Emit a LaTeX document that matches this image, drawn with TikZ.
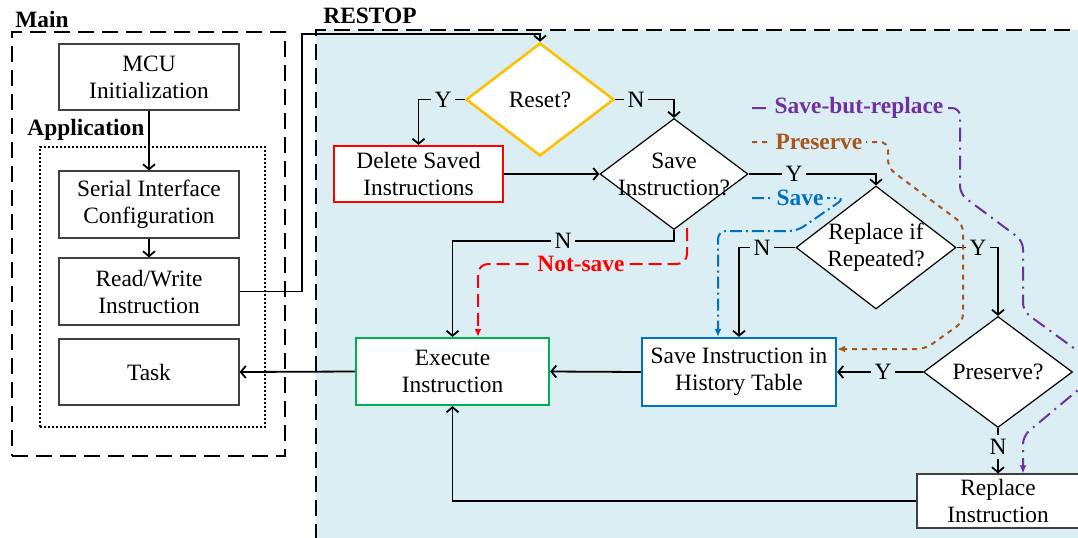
\documentclass[tikz,border=0pt]{standalone}
\usepackage{fontspec}
\setmainfont{Liberation Serif}
\usetikzlibrary{shapes.geometric,arrows.meta}
\definecolor{bg}{HTML}{DAEEF3}
\definecolor{cgold}{HTML}{FFC000}
\definecolor{cred}{HTML}{FF0000}
\definecolor{cgreen}{HTML}{00B050}
\definecolor{cblue}{HTML}{0070C0}
\definecolor{cbrown}{HTML}{A8561C}
\definecolor{cpurple}{HTML}{7030A0}
\begin{document}
\begin{tikzpicture}[x=0.5pt,y=-0.5pt,
  every node/.style={font=\fontsize{11.7pt}{13.5pt}\selectfont},
  box/.style={draw=black!75, line width=0.6pt, fill=white, minimum width=90pt, minimum height=33pt, align=center, inner sep=0pt},
  dia/.style={draw=black, line width=0.6pt, fill=white, shape=diamond, inner sep=0pt},
  txt/.style={align=center, inner sep=0pt},
  conn/.style={line width=0.9pt, -{Straight Barb[length=2.5pt,width=6pt]}},
  lab/.style={fill=bg, inner sep=2pt},
  clab/.style={fill=bg, inner sep=2pt, font=\fontsize{11.7pt}{13.5pt}\selectfont\bfseries},
  ctip/.style={-{Latex[length=4pt,width=3.5pt]}},
  ttl/.style={font=\fontsize{11.7pt}{13.5pt}\selectfont\bfseries, inner sep=0pt, anchor=base west},
  cont/.style={draw, line width=1pt, dash pattern=on 8pt off 4pt, inner sep=0pt},
]
\clip (0,0) rectangle (1078,537);
\fill[white] (0,0) rectangle (1078,537);

% containers
\node[cont, fill=bg, minimum width=392pt, minimum height=265pt] (resB) at (708,295) {};
\node[cont, minimum width=136.5pt, minimum height=212pt] (mainB) at (148.5,244) {};
\node[draw, line width=0.9pt, dash pattern=on 1pt off 1pt, inner sep=0pt, minimum width=112.5pt, minimum height=140pt] (appB) at (152.5,287) {};

\node[ttl] (mainT) at (15,27) {Main};
\node[ttl] (appT) at (27,135) {Application};
\node[ttl] (resT) at (323,23) {RESTOP};

% boxes
\node[box] (mcu) at (149,77) {MCU\\Initialization};
\node[box, minimum height=33.5pt] (ser) at (149,204.5) {Serial Interface\\Configuration};
\node[box, minimum height=33.5pt] (rw) at (149,291.5) {Read/Write\\Instruction};
\node[box] (task) at (149,372) {Task};
\node[box, draw=cred, line width=1.1pt, minimum width=84.5pt, minimum height=28pt] (del) at (418.5,174) {Delete Saved\\Instructions};
\node[box, draw=cgreen, line width=1.1pt, minimum width=96.5pt, minimum height=33.5pt] (exe) at (452.5,371.5) {Execute\\Instruction};
\node[box, draw=cblue, line width=1.1pt, minimum width=97pt, minimum height=34pt] (hist) at (739,372) {Save Instruction in\\History Table};
\node[box, minimum width=81pt, minimum height=27pt] (rin) at (998,501) {Replace\\Instruction};

% diamonds
\node[dia, draw=cgold, line width=1.3pt, minimum width=74pt, minimum height=56.5pt] (reset) at (540,99.5) {};
\node[txt] (resetT) at (reset) {Reset?};
\node[dia, minimum width=74pt, minimum height=55.5pt] (save) at (674,174) {};
\node[txt] (saveT) at (save) {Save\\Instruction?};
\node[dia, minimum width=80pt, minimum height=61.5pt] (rep) at (876,247.5) {};
\node[txt] (repT) at (rep) {Replace if\\Repeated?};
\node[dia, minimum width=74.5pt, minimum height=55.5pt] (pres) at (998,372) {};
\node[txt] (presT) at (pres) {Preserve?};

% black connectors
\draw[conn] (mcu) -- (ser);
\draw[conn] (ser) -- (rw);
\coordinate (up) at (302,34);
\draw[conn] (rw.east) -| (up) -| (reset.north);
\draw[conn] (reset.west) -| (del.north);
\draw[conn] (reset.east) -| (save.north);
\draw[conn] (del.east) -- (save.west);
\draw[conn] (save.east) -| (rep.north);
\coordinate (sb) at (674,241);
\draw[conn] (save.south) -- (sb) -| (exe.north);
\draw[conn] (rep.west) -| (hist.north);
\draw[conn] (rep.east) -| (pres.north);
\draw[conn] (pres.west) -- (hist.east);
\draw[conn] (pres.south) -- (rin.north);
\draw[conn] (rin.west) -| (exe.south);
\draw[conn] (exe.west) -- (task.east);
\draw[conn] (hist.west) -- (exe.east);

\node[lab] (y1) at (443,99.5) {Y};
\node[lab] (n1) at (636,99.5) {N};
\node[lab] (y2) at (794,174) {Y};
\node[lab] (n2) at (563,241) {N};
\node[lab] (n3) at (762,247.5) {N};
\node[lab] (y3) at (978,247.5) {Y};
\node[lab] (y4) at (883,372) {Y};
\node[lab] (n4) at (998,447) {N};

% coloured paths
\coordinate (ns) at (687,228);
\draw[cred, line width=1pt, dash pattern=on 6.5pt off 3pt, rounded corners=5pt, ctip] (ns) |- (478,264) -- ([xshift=12.75pt]exe.north);
\node[clab, text=cred] (nsl) at (581,264) {Not-save};

\coordinate (sv) at (752,198);
\draw[cblue, line width=1pt, dash pattern=on 6pt off 2pt on 1pt off 2pt, rounded corners=4pt, ctip] (sv) -- (845,198) -- (797,231) -- (718,231) -- ([xshift=-10.5pt]hist.north);
\node[clab, text=cblue] (svl) at (800,198) {Save};

\coordinate (pv) at (752,142);
\draw[cbrown, line width=1pt, dash pattern=on 2.5pt off 2.5pt, rounded corners=4pt, ctip] (pv) -- (888,142) -- (888,168) -- (963,224) -- (963,322) -- (925,349) -- ([yshift=11.5pt]hist.east);
\node[clab, text=cbrown] (pvl) at (819,142) {Preserve};

\coordinate (sbr) at (752,108);
\draw[cpurple, line width=1pt, dash pattern=on 7pt off 3pt on 1pt off 3pt, rounded corners=4pt, ctip] (sbr) -- (960,108) -- (960,194) -- (1023,241) -- (1023,311) -- (1090,360) -- (1090,380) -- (1023,436) -- ([xshift=12.5pt]rin.north);
\node[clab, text=cpurple] (sbrl) at (859,108) {Save-but-replace};
\end{tikzpicture}
\end{document}
